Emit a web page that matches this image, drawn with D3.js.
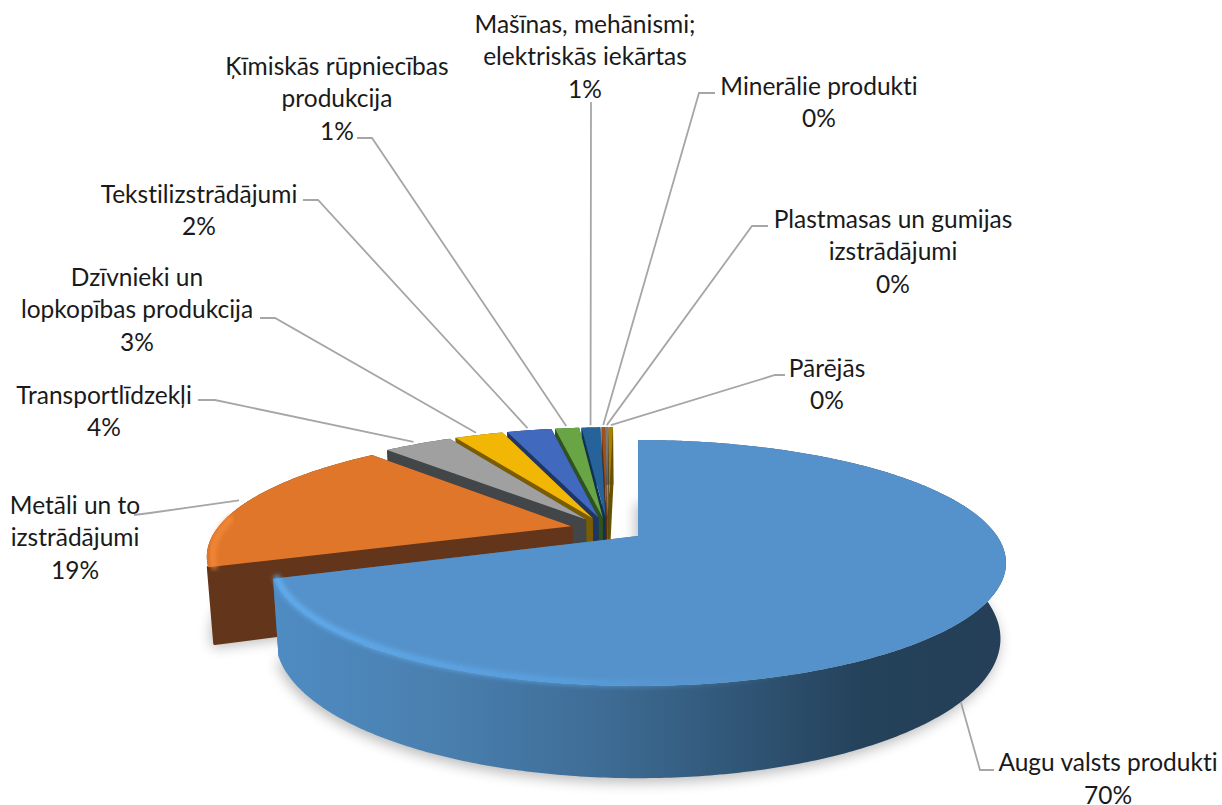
<!DOCTYPE html>
<html>

<head>
  <title>Pie3D</title>
  <script src="https://cdnjs.cloudflare.com/ajax/libs/d3/7.8.5/d3.min.js"></script>
  <style>
    html, body { margin: 0; padding: 0; background: #fff; }
    svg { display: block; }
    text { font-family: Lato, "Open Sans", sans-serif; font-size: 24.5px; fill: #1a1a1a; font-variant-ligatures: none; }
  </style>
</head>

<body>
  <svg width="1222" height="805" id="mainsvg"></svg>
  <script>
    const categories = ['Augu valsts produkti', 'Metāli un to izstrādājumi', 'Transportlīdzekļi',
      'Dzīvnieki un lopkopības produkcija', 'Tekstilizstrādājumi', 'Ķīmiskās rūpniecības produkcija',
      'Mašīnas, mehānismi; elektriskās iekārtas', 'Minerālie produkti',
      'Plastmasas un gumijas izstrādājumi', 'Pārējās'];
    const values = [69.5, 18.5, 3.8, 2.7, 2.49, 1.35, 1.05, 0.2, 0.15, 0.25];
    const percentLabels = ['70%', '19%', '4%', '3%', '2%', '1%', '1%', '0%', '0%', '0%'];
    const faceColors = ['#5592cb', '#e0762c', '#a0a0a0', '#f2b705', '#4169be', '#69a544', '#25639a', '#a0501c', '#7a7a7a', '#a98000'];
    const wallColors = ['#3d6a92', '#63351a', '#424649', '#7a5d02', '#1f3564', '#2f5320', '#123150', '#5a2c0c', '#3a3a3a', '#6a5000'];

    // label layout: text lines, centre x, first line y, leader elbow points
    const labelLines = [
      ['Augu valsts produkti', '70%'],
      ['Metāli un to', 'izstrādājumi', '19%'],
      ['Transportlīdzekļi', '4%'],
      ['Dzīvnieki un', 'lopkopības produkcija', '3%'],
      ['Tekstilizstrādājumi', '2%'],
      ['Ķīmiskās rūpniecības', 'produkcija', '1%'],
      ['Mašīnas, mehānismi;', 'elektriskās iekārtas', '1%'],
      ['Minerālie produkti', '0%'],
      ['Plastmasas un gumijas', 'izstrādājumi', '0%'],
      ['Pārējās', '0%']
    ];
    const labelX = [1108, 75, 104, 137, 199, 337, 585, 819, 893, 827];
    const labelY = [762.5, 505, 395, 277, 194, 66, 24, 86, 219, 368];
    const leaderElbows = [
      [[994, 770], [980, 770]],
      [[134, 515], [150, 513]],
      [[198, 400], [215, 400]],
      [[260, 318], [275, 318]],
      [[303, 200], [318, 200]],
      [[357, 138], [372, 138]],
      [[591, 102], [591, 103]],
      [[715, 93], [699, 93]],
      [[768, 226], [752, 226]],
      [[785, 375], [775, 375]]
    ];

    const svg = d3.select('#mainsvg');
    const defs = svg.append('defs');

    // projection of the tilted pie: perspective in depth, thickness downward
    const originX = 638, originY = 536;
    const radius = 359, tilt = 0.326, persp = 0.2195, thickness = 72, explode = 38;
    const project = (wx, wy, z) => {
      const f = 1 / (1 - persp * wy / radius);
      return [originX + wx * f * (1 - 0.015 * z), originY + (tilt * wy + thickness * z) * f];
    };
    const dir = a => [Math.sin(a), -Math.cos(a)];

    const arcs = d3.pie().sort(null).value(d => d)(values);
    const midOf = d => (d.startAngle + d.endAngle) / 2;
    const blueDir = dir(midOf(arcs[0]));
    const offsetOf = d => {
      const m = dir(midOf(d));
      return [explode * (m[0] - blueDir[0]), explode * (m[1] - blueDir[1])];
    };
    const rimPoint = (d, a, z, r = radius) => {
      const o = offsetOf(d), v = dir(a);
      return project(o[0] + r * v[0], o[1] + r * v[1], z);
    };
    const apex = (d, z) => {
      const o = offsetOf(d);
      return project(o[0], o[1], z);
    };
    const rim = (d, z, r = radius, from = d.startAngle, to = d.endAngle) =>
      d3.range(0, 1.0001, 1 / Math.max(2, Math.ceil(Math.abs(to - from) * 90)))
        .map(t => rimPoint(d, from + (to - from) * t, z, r));
    const line = d3.line();
    const closed = pts => line(pts) + 'Z';

    // filters and gradients
    const blur = (id, s) => defs.append('filter').attr('id', id)
      .attr('x', '-10%').attr('y', '-10%').attr('width', '120%').attr('height', '120%')
      .append('feGaussianBlur').attr('stdDeviation', s);
    blur('soft', 0.7);
    blur('bevel', 2.4);
    blur('shadow', 7);

    const wallGrad = defs.append('linearGradient').attr('id', 'blueWall')
      .attr('gradientUnits', 'userSpaceOnUse').attr('x1', 272).attr('x2', 1008).attr('y1', 0).attr('y2', 0);
    [[0, '#4f8cc3'], [0.22, '#4a80b0'], [0.45, '#3e6c95'], [0.65, '#2f5474'], [0.8, '#25425b'], [1, '#243f57']]
      .forEach(s => wallGrad.append('stop').attr('offset', s[0]).attr('stop-color', s[1]));
    const bevelGrad = defs.append('linearGradient').attr('id', 'blueBevel')
      .attr('gradientUnits', 'userSpaceOnUse').attr('x1', 272).attr('x2', 800).attr('y1', 0).attr('y2', 0);
    [[0, '#63b0f2', 1], [0.55, '#5aa4e6', 0.8], [1, '#5592cb', 0]]
      .forEach(s => bevelGrad.append('stop').attr('offset', s[0]).attr('stop-color', s[1]).attr('stop-opacity', s[2]));

    // soft drop shadow under the two large slices
    const shadowG = svg.append('g').attr('filter', 'url(#shadow)').attr('fill', '#000').attr('opacity', 0.28);
    [arcs[1], arcs[0]].forEach(d => {
      shadowG.append('path')
        .attr('transform', 'translate(-2, 4)')
        .attr('d', closed([apex(d, 1), ...rim(d, 1)]));
    });

    // slices back to front
    const sliceG = svg.selectAll('.slice').data(arcs.slice().reverse()).join('g').attr('class', 'slice');
    sliceG.each(function (d) {
      const g = d3.select(this);
      const wall = d.index === 0 ? 'url(#blueWall)' : wallColors[d.index];
      const edgeWall = a => {
        const p = rimPoint(d, a, 0), q = rimPoint(d, a, 1);
        return closed([apex(d, 0), p, q, apex(d, 1)]);
      };
      g.append('path').attr('d', edgeWall(d.endAngle)).attr('fill', wallColors[d.index]);
      g.append('path').attr('d', closed([...rim(d, 0), ...rim(d, 1).reverse()])).attr('fill', wall);
      g.append('path').attr('d', edgeWall(d.startAngle)).attr('fill', wallColors[d.index])
        .attr('stroke', d.index === 1 ? wallColors[1] : 'none')
        .attr('stroke-width', 3).attr('stroke-linejoin', 'round');
      g.append('path').attr('d', closed([apex(d, 0), ...rim(d, 0)]))
        .attr('fill', faceColors[d.index])
        .attr('filter', d.index < 2 ? 'url(#soft)' : null);
    });

    // light bevel along the front edges of the big slices
    svg.append('path')
      .attr('d', line(rim(arcs[0], 0, radius * 0.99, arcs[0].endAngle, arcs[0].endAngle - 2.2)))
      .attr('fill', 'none').attr('stroke', 'url(#blueBevel)').attr('stroke-width', 6)
      .attr('stroke-linecap', 'round').attr('filter', 'url(#bevel)');
    svg.append('path')
      .attr('d', line(rim(arcs[1], 0, radius * 0.985, arcs[1].startAngle, arcs[1].startAngle + 0.42)))
      .attr('fill', 'none').attr('stroke', '#f48b3a').attr('stroke-width', 5)
      .attr('stroke-linecap', 'round').attr('filter', 'url(#bevel)');

    // leader lines
    svg.selectAll('.leader').data(arcs).join('path')
      .attr('class', 'leader')
      .attr('fill', 'none').attr('stroke', '#a6a6a6').attr('stroke-width', 1.8)
      .attr('d', d => {
        const end = d.index === 0
          ? rimPoint(d, midOf(d) + 0.047, 1)
          : rimPoint(d, midOf(d), 0, radius * 1.03);
        return line([...leaderElbows[d.index], end]);
      });

    // labels
    const labelG = svg.selectAll('.label').data(labelLines).join('text')
      .attr('class', 'label').attr('text-anchor', 'middle');
    labelG.selectAll('tspan').data((d, i) => d.map((t, j) => ({ t, j, i }))).join('tspan')
      .attr('x', d => labelX[d.i])
      .attr('y', d => labelY[d.i] + d.j * 32.6)
      .attr('dy', '0.35em')
      .text(d => d.t);
  </script>
</body>

</html>
